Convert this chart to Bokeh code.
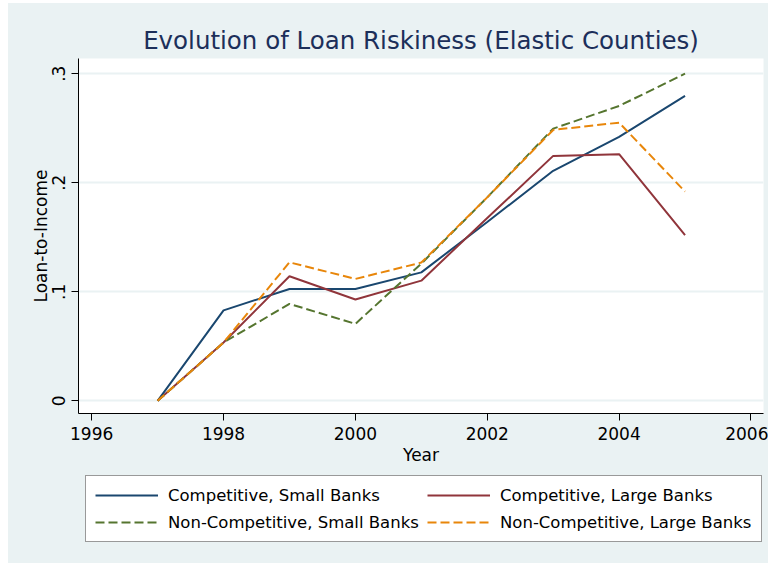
from bokeh.plotting import figure
from bokeh.models import (Range1d, FixedTicker, Legend, LegendItem)
from bokeh.layouts import column
from bokeh.embed import file_html
from bokeh.resources import INLINE

# ---- data ----
years = [1997, 1998, 1999, 2000, 2001, 2002, 2003, 2004, 2005]
comp_small = [0.0, 0.0830, 0.1026, 0.1026, 0.1178, 0.1640, 0.2109, 0.2420, 0.2796]
comp_large = [0.0, 0.0535, 0.1142, 0.0929, 0.1102, 0.1676, 0.2246, 0.2262, 0.1520]
noncomp_small = [0.0, 0.0535, 0.0889, 0.0706, 0.1258, 0.1866, 0.2496, 0.2704, 0.3000]
noncomp_large = [0.0, 0.0535, 0.1270, 0.1118, 0.1268, 0.1866, 0.2484, 0.2551, 0.1919]

series_names = ["Competitive, Small Banks", "Competitive, Large Banks",
                "Non-Competitive, Small Banks", "Non-Competitive, Large Banks"]
x_ticks = [1996, 1998, 2000, 2002, 2004, 2006]
y_ticks = [0, 0.1, 0.2, 0.3]
y_tick_labels = ["0", ".1", ".2", ".3"]

BG = "#EAF2F3"
FONT = "DejaVu Sans"
colors = ["#1A476F", "#90353B", "#55752F", "#E8860A"]
dashes = ["solid", "solid", "9 4", "9 4"]

# ---------------- main chart ----------------
p = figure(width=760, height=467, output_backend="svg", toolbar_location=None,
           x_range=Range1d(1995.80, 2006.19), y_range=Range1d(-0.0116, 0.3139),
           min_border_left=70, min_border_right=5, min_border_top=55, min_border_bottom=57)
p.border_fill_color = BG
p.background_fill_color = "white"
p.outline_line_color = None

p.title.text = "Evolution of Loan Riskiness (Elastic Counties)"
p.title.text_font = FONT
p.title.text_font_size = "24.5px"
p.title.text_font_style = "normal"
p.title.text_color = "#1C2F5A"
p.title.align = "center"
p.title.standoff = 8

p.xgrid.visible = False
p.ygrid.ticker = FixedTicker(ticks=y_ticks)
p.ygrid.grid_line_color = BG
p.ygrid.grid_line_width = 2

xa = p.xaxis[0]
xa.ticker = FixedTicker(ticks=x_ticks)
xa.axis_label = "Year"
ya = p.yaxis[0]
ya.ticker = FixedTicker(ticks=y_ticks)
ya.major_label_overrides = {t: s for t, s in zip(y_ticks, y_tick_labels)}
ya.major_label_orientation = "vertical"
ya.axis_label = "Loan-to-Income"
for ax in (xa, ya):
    ax.axis_line_color = "black"
    ax.axis_line_width = 1
    ax.major_tick_line_color = "black"
    ax.major_tick_out = 7
    ax.major_tick_in = 0
    ax.minor_tick_line_color = None
    ax.major_label_text_font = FONT
    ax.major_label_text_font_size = "17px"
    ax.major_label_text_color = "black"
    ax.axis_label_text_font = FONT
    ax.axis_label_text_font_size = "17px"
    ax.axis_label_text_font_style = "normal"
    ax.axis_label_text_color = "black"
xa.major_label_standoff = 6
xa.axis_label_standoff = 2
ya.major_label_standoff = 6
ya.axis_label_standoff = -1

data = [comp_small, comp_large, noncomp_small, noncomp_large]
for ys, c, d in zip(data, colors, dashes):
    p.line(years, ys, line_color=c, line_width=2, line_dash=d)

# ---------------- legend strip (same key styles) ----------------
q = figure(width=760, height=93, output_backend="svg", toolbar_location=None,
           x_range=Range1d(0, 1), y_range=Range1d(0, 1),
           x_axis_type=None, y_axis_type=None,
           min_border_left=70, min_border_right=5, min_border_top=0, min_border_bottom=0)
q.border_fill_color = BG
q.background_fill_color = BG
q.outline_line_color = None
q.grid.visible = False
nan = float("nan")
keys = []
for c, d in zip(colors, dashes):
    keys.append(q.line(x=[nan], y=[nan], line_color=c, line_width=2, line_dash=d))

items = [LegendItem(label=n, renderers=[r]) for n, r in zip(series_names, keys)]
legend = Legend(items=items, orientation="horizontal", ncols=2,
                location=(7, 21), margin=0, padding=9, spacing=7,
                glyph_width=63, glyph_height=20, label_height=20,
                label_standoff=10, label_width=252,
                label_text_font=FONT, label_text_font_size="16.5px",
                label_text_color="black",
                border_line_color="#333333", border_line_width=1,
                background_fill_color="white", background_fill_alpha=1.0)
q.add_layout(legend, "center")

layout = column(p, q, spacing=0)
layout.margin = (3, 3, 0, 8)
layout.styles = {"background-color": BG}

open("out.html", "w").write(file_html(layout, INLINE))
